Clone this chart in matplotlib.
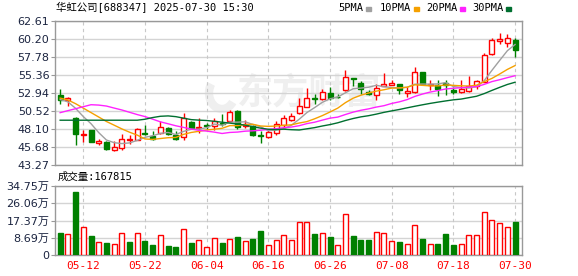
import matplotlib
matplotlib.use("Agg")
import matplotlib.pyplot as plt
from matplotlib.patches import Rectangle, Arc

# trading days shown (05-07 .. 07-30)
dates = ["05-07", "05-08", "05-09", "05-12", "05-13", "05-14", "05-15", "05-16",
         "05-19", "05-20", "05-21", "05-22", "05-23", "05-26", "05-27", "05-28",
         "05-29", "05-30", "06-03", "06-04", "06-05", "06-06", "06-09", "06-10",
         "06-11", "06-12", "06-13", "06-16", "06-17", "06-18", "06-19", "06-20",
         "06-23", "06-24", "06-25", "06-26", "06-27", "06-30", "07-01", "07-02",
         "07-03", "07-04", "07-07", "07-08", "07-09", "07-10", "07-11", "07-14",
         "07-15", "07-16", "07-17", "07-18", "07-21", "07-22", "07-23", "07-24",
         "07-25", "07-28", "07-29", "07-30"]

opens = [52.73, 52.02, 49.63, 47.24, 47.90, 46.22, 46.31, 45.28, 45.46, 46.57,
         46.66, 47.60, 47.19, 47.55, 48.17, 47.32, 47.01, 49.05, 48.17, 48.61,
         48.43, 48.88, 49.19, 50.51, 48.52, 48.43, 47.30, 47.01, 47.55, 48.65,
         49.32, 50.20, 51.09, 52.20, 52.11, 53.00, 52.45, 53.31, 54.90, 54.28,
         53.09, 52.64, 53.93, 54.06, 54.10, 52.95, 53.09, 55.74, 53.97, 53.97,
         54.28, 53.40, 53.09, 53.22, 53.84, 54.41, 58.18, 59.95, 59.64, 60.13]
highs = [53.53, 52.42, 49.76, 47.99, 47.95, 46.79, 46.44, 46.40, 47.46, 47.32,
         48.21, 48.56, 47.86, 49.19, 48.30, 47.77, 50.20, 49.19, 49.54, 48.88,
         49.54, 50.11, 50.65, 50.65, 49.32, 48.56, 47.77, 47.99, 49.10, 49.98,
         50.20, 52.20, 53.62, 52.86, 53.53, 53.75, 52.77, 56.05, 54.93, 54.50,
         53.31, 54.20, 55.61, 54.72, 54.15, 53.75, 56.50, 55.83, 54.72, 54.64,
         54.64, 53.75, 54.64, 55.30, 54.64, 58.40, 60.30, 61.06, 60.92, 60.30]
lows = [51.44, 51.20, 45.90, 46.31, 46.30, 45.95, 45.24, 45.15, 45.28, 46.08,
        46.57, 47.24, 46.66, 47.46, 47.24, 46.57, 46.57, 48.12, 47.55, 48.08,
        47.99, 48.43, 49.05, 48.12, 48.21, 47.19, 46.22, 46.88, 47.24, 48.21,
        49.23, 50.11, 51.00, 51.44, 51.98, 51.98, 52.20, 53.22, 53.84, 52.86,
        52.64, 51.98, 53.84, 53.97, 52.86, 52.42, 52.95, 54.10, 53.40, 52.55,
        52.64, 52.86, 53.00, 53.09, 53.53, 54.41, 58.09, 59.60, 59.15, 57.82]
closes = [51.98, 52.29, 47.41, 47.41, 46.35, 46.40, 45.42, 45.64, 46.79, 46.79,
          48.12, 47.46, 46.75, 48.30, 47.46, 46.75, 49.54, 48.21, 48.35, 48.52,
          49.14, 48.75, 50.34, 48.30, 48.75, 47.32, 47.20, 47.68, 48.79, 49.54,
          49.81, 51.18, 52.20, 52.10, 53.09, 52.24, 52.35, 55.08, 54.80, 53.53,
          52.86, 53.62, 54.10, 54.28, 53.31, 53.22, 55.74, 54.19, 54.19, 53.53,
          54.06, 53.09, 53.53, 53.84, 54.50, 58.09, 60.04, 60.17, 60.39, 58.71]

ma5 = [52.06, 51.75, 50.87, 49.76, 48.80, 47.60, 46.60, 46.24, 46.12, 46.21,
       46.55, 46.96, 47.18, 47.48, 47.62, 47.34, 47.76, 48.05, 48.06, 48.27,
       48.75, 48.59, 49.02, 49.01, 49.06, 48.69, 48.38, 47.85, 47.95, 48.11,
       48.60, 49.40, 50.30, 50.97, 51.68, 52.16, 52.40, 52.97, 53.51, 53.60,
       53.72, 53.98, 53.78, 53.68, 53.63, 53.71, 54.13, 54.15, 54.13, 54.17,
       54.34, 53.81, 53.68, 53.61, 53.80, 54.61, 56.00, 57.33, 58.64, 59.48]
ma10 = [52.25, 52.00, 51.50, 50.90, 50.30, 49.70, 49.10, 48.60, 48.10, 47.65,
        47.26, 46.74, 46.68, 46.80, 46.91, 46.95, 47.36, 47.62, 47.77, 47.95,
        48.05, 48.18, 48.54, 48.54, 48.67, 48.72, 48.49, 48.44, 48.48, 48.58,
        48.65, 48.89, 49.08, 49.46, 49.89, 50.38, 50.90, 51.64, 52.24, 52.64,
        52.94, 53.19, 53.38, 53.60, 53.62, 53.72, 54.05, 53.97, 53.90, 53.90,
        54.02, 53.97, 53.91, 53.87, 53.99, 54.48, 54.91, 55.50, 56.12, 56.64]
ma20 = [50.29, 50.56, 50.82, 51.09, 51.36, 51.31, 51.18, 50.91, 50.65, 50.34,
        50.03, 49.76, 49.41, 49.05, 48.79, 48.52, 48.30, 48.08, 47.90, 47.80,
        47.66, 47.48, 47.62, 47.67, 47.79, 47.84, 47.92, 48.03, 48.13, 48.26,
        48.35, 48.53, 48.81, 49.00, 49.28, 49.55, 49.69, 50.04, 50.36, 50.61,
        50.80, 51.04, 51.23, 51.53, 51.75, 52.05, 52.48, 52.80, 53.07, 53.27,
        53.48, 53.58, 53.65, 53.73, 53.80, 54.10, 54.48, 54.73, 55.01, 55.27]
ma30 = [49.27, 49.27, 49.27, 49.27, 49.27, 49.27, 49.27, 49.27, 49.27, 49.27,
        49.27, 49.40, 49.63, 49.80, 49.85, 49.75, 49.55, 49.35, 49.28, 49.23,
        49.12, 49.00, 48.88, 48.75, 48.60, 48.40, 48.20, 48.05, 48.00, 48.06,
        47.99, 47.95, 48.11, 48.27, 48.49, 48.68, 48.92, 49.23, 49.50, 49.72,
        49.88, 50.09, 50.33, 50.53, 50.72, 50.94, 51.15, 51.35, 51.54, 51.71,
        51.87, 52.02, 52.12, 52.31, 52.50, 52.86, 53.29, 53.70, 54.09, 54.39]

# volume in 万 shares, and its colour (1 = red, 0 = green)
volume = [11.2, 10.5, 31.7, 14.0, 9.7, 6.7, 6.2, 5.5, 11.2, 6.7,
          11.2, 7.2, 5.2, 10.0, 4.7, 4.2, 13.0, 6.2, 7.5, 3.9,
          8.4, 6.0, 7.9, 9.1, 7.0, 8.1, 12.1, 4.9, 7.6, 9.9,
          7.4, 16.4, 16.4, 10.6, 10.9, 9.1, 4.9, 20.5, 9.6, 7.6,
          7.6, 11.6, 11.1, 7.0, 6.7, 5.5, 15.1, 8.1, 5.5, 5.5,
          10.7, 5.0, 5.5, 10.1, 10.1, 21.6, 17.6, 16.1, 14.1, 16.7815]
vol_up = [0, 1, 0, 1, 0, 1, 0, 1, 1, 0,
          1, 0, 0, 1, 0, 0, 1, 0, 1, 1,
          1, 0, 1, 0, 1, 0, 0, 1, 1, 1,
          1, 1, 1, 0, 1, 0, 1, 1, 0, 0,
          0, 1, 1, 1, 0, 1, 1, 0, 1, 0,
          0, 0, 1, 1, 1, 1, 1, 1, 1, 0]
last_volume = 167815

price_ticks = [43.27, 45.68, 48.10, 50.52, 52.94, 55.36, 57.78, 60.20, 62.61]
vol_ticks = [0, 8.69, 17.37, 26.06, 34.75]
vol_labels = ["0", "8.69万", "17.37万", "26.06万", "34.75万"]
ma_names = ["5PMA", "10PMA", "20PMA", "30PMA"]
ma_colors = ["#a0a0a0", "#f5a000", "#ff22ff", "#006f30"]

RED = "#ff0000"
GREEN = "#008000"
GRID = "#d4d4d4"
EDGE = "#999999"
mono = ["DejaVu Sans Mono", "Noto Sans CJK SC"]
sans = ["DejaVu Sans", "Noto Sans CJK SC"]

W, H = 578, 276
fig = plt.figure(figsize=(W / 100, H / 100), dpi=100)
ax = fig.add_axes([55 / W, (H - 164.7) / H, 467 / W, 143.4 / H])
axv = fig.add_axes([55 / W, (H - 255) / H, 467 / W, 69 / H])

x = list(range(len(dates)))
label_idx = [i for i in x if i % 8 == 3]

for a in (ax, axv):
    for s in a.spines.values():
        s.set_color(EDGE)
        s.set_linewidth(1)
    for i in label_idx:
        a.axvline(i, color="#c8c8c8", lw=0.8, ls=(0, (3, 3)), zorder=0.6)
    a.set_xlim(-0.67, 59.9)
    a.tick_params(axis="x", length=0)
    a.tick_params(axis="y", length=3, color=EDGE, labelsize=8,
                  labelcolor="#1b2440", pad=1)

# watermark: logo swoosh + name
ax.text(0.545, 0.50, "东方财富", transform=ax.transAxes, fontsize=26,
        color="#efefef", ha="center", va="center", weight="bold",
        family="Noto Sans CJK SC", zorder=0.5)
ax.add_patch(Arc(((222 - 55) / 467, (164.7 - 93) / 143.4), 26 / 467, 32 / 143.4,
                 theta1=110, theta2=290, transform=ax.transAxes,
                 color="#efefef", lw=6, zorder=0.5))

# candles
bw = 0.65
for i in x:
    o, h, l, c = opens[i], highs[i], lows[i], closes[i]
    up = c >= o
    col = RED if up else GREEN
    ax.vlines(i, l, h, color=col, lw=1, zorder=2)
    ax.bar(i, max(abs(c - o), 0.02), bottom=min(o, c), width=bw,
           facecolor="white" if up else GREEN, edgecolor=col, lw=1, zorder=3)

for vals, col in zip([ma5, ma10, ma20, ma30], ma_colors):
    ax.plot(x, vals, color=col, lw=1, zorder=4)

ax.set_ylim(43.27, 62.61)
ax.set_yticks(price_ticks)
ax.set_yticklabels([f"{t:.2f}" for t in price_ticks])
ax.grid(axis="y", color=GRID, lw=1, zorder=0.6)
ax.set_axisbelow(True)
ax.set_xticks([])

# volume
for i in x:
    col = RED if vol_up[i] else GREEN
    axv.bar(i, volume[i], width=bw, facecolor="white" if vol_up[i] else GREEN,
            edgecolor=col, lw=1, zorder=3)
axv.set_ylim(0, 34.75)
axv.set_yticks(vol_ticks)
axv.set_yticklabels(vol_labels, family=sans)
axv.grid(axis="y", color=GRID, lw=1, zorder=0.6)
axv.set_axisbelow(True)
axv.set_xticks(label_idx)
axv.set_xticklabels([dates[i] for i in label_idx], color=RED, family=mono,
                    fontsize=8)
axv.tick_params(axis="x", pad=4)

# header texts
fig.text(56 / W, 1 - 8 / H, "华虹公司[688347] 2025-07-30 15:30", fontsize=7.5,
         family=mono, va="center")
fig.text(58 / W, 1 - 177 / H, f"成交量:{last_volume}",
         fontsize=7.5, family=mono, va="center")

leg_x = [338, 380, 426, 472]
for name, col, lx in zip(ma_names, ma_colors, leg_x):
    fig.text(lx / W, 1 - 8 / H, name, fontsize=7.5, family=mono, va="center")
    sq_x = lx + len(name) * 6.2 + 3
    fig.patches.append(Rectangle((sq_x / W, 1 - 10.5 / H), 5 / W, 3.5 / H,
                                 transform=fig.transFigure, color=col))

fig.savefig("out.png", dpi=100)
